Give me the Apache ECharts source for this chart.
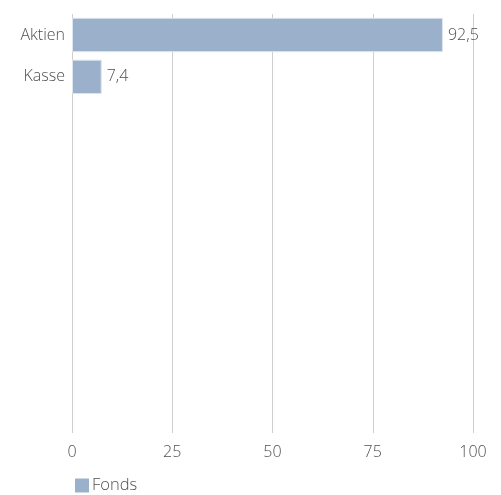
<!DOCTYPE html>
<html><head><meta charset="utf-8">
<script src="https://cdn.jsdelivr.net/npm/echarts@6/dist/echarts.min.js"></script>
<style>html,body{margin:0;padding:0;background:#fff}#c{width:501px;height:495px}</style>
</head><body><div id="c"></div>
<script>
const categories = ['Aktien', 'Kasse'];
const seriesName = 'Fonds';
const values = [92.5, 7.4];
const ticks = [0, 25, 50, 75, 100];

const chart = echarts.init(document.getElementById('c'), null, {renderer: 'canvas'});
const font = '"Open Sans", Lato, sans-serif';
chart.setOption({
  animation: false,
  grid: {left: 72, right: 28, top: 14, bottom: 62, containLabel: false},
  xAxis: {
    type: 'value', min: ticks[0], max: ticks[ticks.length - 1], interval: 25,
    axisLine: {show: false}, axisTick: {show: false},
    splitLine: {show: true, lineStyle: {color: '#cfcfcf', width: 1}},
    axisLabel: {color: '#505050', fontSize: 16, fontWeight: 300, fontFamily: font, margin: 11}
  },
  yAxis: {
    type: 'category', data: categories, inverse: true, max: 9,
    axisLine: {show: false}, axisTick: {show: false},
    axisLabel: {color: '#505050', fontSize: 16, fontWeight: 300, fontFamily: font, margin: 7}
  },
  legend: {
    left: 70, top: 472, itemWidth: 14, itemHeight: 14, itemGap: 4,
    icon: 'rect',
    itemStyle: {borderWidth: 0},
    textStyle: {color: '#505050', fontSize: 16.5, fontWeight: 300, fontFamily: font, padding: [0, 0, 0, -2]},
    data: [seriesName]
  },
  series: [{
    name: seriesName, type: 'bar', data: values,
    barCategoryGap: '18%',
    itemStyle: {color: '#9AB0CB', borderColor: '#dde5ef', borderWidth: 1},
    label: {
      show: true, position: 'right', distance: 5, color: '#505050', fontSize: 16, fontWeight: 300, fontFamily: font,
      formatter: p => String(p.value).replace('.', ',')
    }
  }]
});
</script></body></html>
